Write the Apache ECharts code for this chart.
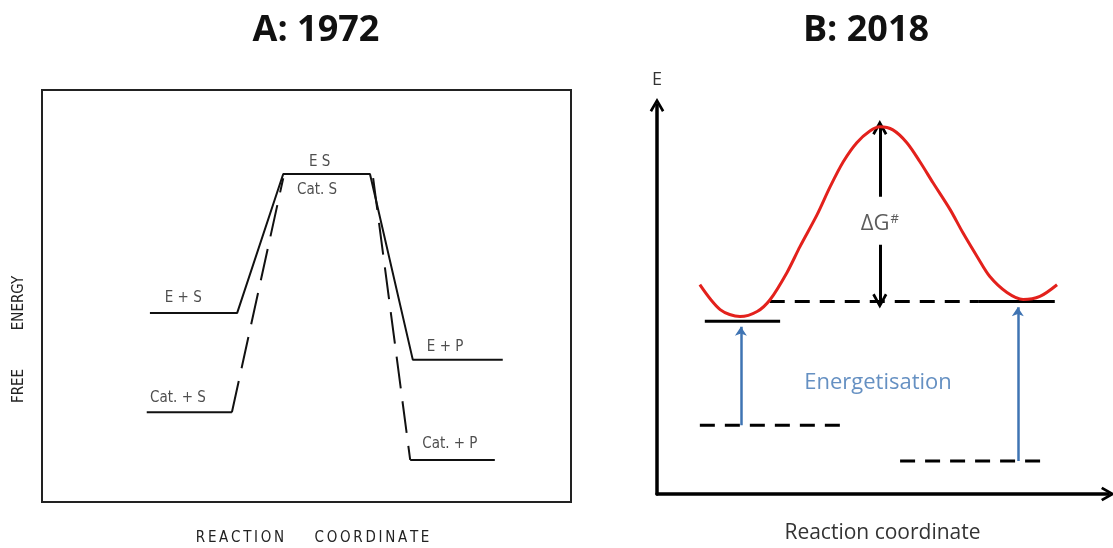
<!DOCTYPE html>
<html>
<head>
<meta charset="utf-8">
<title>energy diagrams</title>
<script src="https://cdn.jsdelivr.net/npm/echarts@6/dist/echarts.min.js"></script>
<style>
    html, body { margin: 0; padding: 0; background: #fff; }
    #main { width: 1113px; height: 548px; }
</style>
</head>
<body>
<div id="main"></div>
<script>
// ---- panel A (1972) : [reaction coordinate, free energy], both 0..100
var esPath   = [[20.4, 45.9], [36.9, 45.9], [45.6, 79.6], [62.0, 79.6], [70.1, 34.5], [87.1, 34.5]];
var catStart = [[19.8, 21.8], [35.9, 21.8]];
var catRise  = [[35.9, 21.8], [45.6, 78.6]];
var catFall  = [[62.6, 78.6], [69.6, 10.2]];
var catEnd   = [[69.6, 10.2], [85.6, 10.2]];
var labelsA  = [
    {name: 'E S',      value: [52.5, 82.4]},
    {name: 'Cat. S',   value: [52.0, 75.8]},
    {name: 'E + S',    value: [26.7, 49.5]},
    {name: 'Cat. + S', value: [25.7, 25.2]},
    {name: 'E + P',    value: [76.2, 37.6]},
    {name: 'Cat. + P', value: [77.1, 14.0]}
];

// ---- panel B (2018) : [reaction coordinate, E], both 0..100
var barrierCurve = [[9.5, 53.8], [14.0, 47.4], [18.4, 45.6], [22.2, 46.9], [25.1, 50.0], [28.8, 56.9],
                    [31.7, 63.6], [35.5, 71.8], [38.4, 79.0], [41.3, 85.4], [44.3, 90.3], [47.2, 93.3],
                    [49.4, 94.4], [52.3, 93.6], [55.4, 90.3], [58.3, 85.4], [61.2, 80.0], [65.0, 73.1],
                    [67.8, 67.2], [71.0, 61.0], [73.8, 55.9], [77.6, 51.8], [81.2, 50.0], [84.9, 50.8], [88.7, 53.8]];
var groundLevel  = [[10.6, 44.4], [27.3, 44.4]];
var activeDashed = [[25.0, 49.5], [71.2, 49.5]];
var activeSolid  = [[71.2, 49.5], [88.2, 49.5]];
var lowLeft      = [[9.5, 17.7], [41.0, 17.7]];
var lowRight     = [[53.9, 8.5], [86.5, 8.5]];
var blueArrows   = [[[18.6, 17.7], [18.6, 43.0]], [[80.0, 8.5], [80.0, 48.0]]];
var dgArrows     = [[[49.4, 76.4], [49.4, 94.2]], [[49.4, 64.1], [49.4, 49.6]]];
var dgLabel      = [49.4, 69.4];
var energLabel   = [49.0, 28.7];

var chevron = 'path://M5,0 L10,8.6 L8.4,9.6 L5,3.6 L1.6,9.6 L0,8.6 Z';
var plotFont = '"Liberation Sans Narrow", "DejaVu Sans Condensed", "DejaVu Sans"';

$init();

// spread capitals a little, like the old plotter lettering
function spaced(s) {
    return s.split('').join('\u2009');
}

function $init() {
    var myChart = echarts.init(document.getElementById('main'));

    function seg(name, data, grid, color, width, type) {
        return {
            name: name,
            type: 'line',
            xAxisIndex: grid,
            yAxisIndex: grid,
            data: data,
            symbol: 'none',
            silent: true,
            lineStyle: {color: color, width: width, type: type || 'solid'}
        };
    }

    function arrows(data, color, width, head, size) {
        return {
            type: 'lines',
            coordinateSystem: 'cartesian2d',
            xAxisIndex: 1,
            yAxisIndex: 1,
            symbol: ['none', head],
            symbolSize: size,
            silent: true,
            lineStyle: {color: color, width: width, opacity: 1},
            data: data.map(function (c) { return {coords: c}; })
        };
    }

    var option = {
        animation: false,
        backgroundColor: '#fff',
        graphic: [
            {type: 'text', x: 316, y: 31, style: {text: 'A: 1972', font: 'bold 36px "Open Sans"', fill: '#111', align: 'center', verticalAlign: 'middle'}},
            {type: 'text', x: 866, y: 31, style: {text: 'B: 2018', font: 'bold 36px "Open Sans"', fill: '#111', align: 'center', verticalAlign: 'middle'}},
            {type: 'text', x: 240, y: 538, style: {text: spaced('REACTION'), font: '15px ' + plotFont, fill: '#222', align: 'center', verticalAlign: 'middle'}},
            {type: 'text', x: 372, y: 538, style: {text: spaced('COORDINATE'), font: '15px ' + plotFont, fill: '#222', align: 'center', verticalAlign: 'middle'}},
            {type: 'text', x: 19, y: 386, rotation: Math.PI / 2, style: {text: 'FREE', font: '15px ' + plotFont, fill: '#222', align: 'center', verticalAlign: 'middle'}},
            {type: 'text', x: 19, y: 303, rotation: Math.PI / 2, style: {text: 'ENERGY', font: '15px ' + plotFont, fill: '#222', align: 'center', verticalAlign: 'middle'}}
        ],
        grid: [
            {left: 42, right: 542, top: 90, bottom: 46, show: true, borderColor: '#222', borderWidth: 2, outerBoundsMode: 'none'},
            {left: 657, right: 5, top: 105, bottom: 54, outerBoundsMode: 'none'}
        ],
        xAxis: [
            {gridIndex: 0, type: 'value', min: 0, max: 100, show: false},
            {
                gridIndex: 1, type: 'value', min: 0, max: 100,
                name: 'Reaction coordinate', nameLocation: 'middle', nameGap: 29,
                nameTextStyle: {fontFamily: 'Open Sans', fontSize: 21, color: '#333'},
                axisLine: {onZero: false, symbol: ['none', chevron], symbolSize: [18, 14], lineStyle: {color: '#000', width: 3.5}},
                axisTick: {show: false}, axisLabel: {show: false}, splitLine: {show: false}
            }
        ],
        yAxis: [
            {gridIndex: 0, type: 'value', min: 0, max: 100, show: false},
            {
                gridIndex: 1, type: 'value', min: 0, max: 100,
                name: 'E', nameLocation: 'end', nameGap: 16,
                nameTextStyle: {fontFamily: 'Open Sans', fontSize: 18, color: '#333'},
                axisLine: {onZero: false, symbol: ['none', chevron], symbolSize: [18, 14], lineStyle: {color: '#000', width: 3.5}},
                axisTick: {show: false}, axisLabel: {show: false}, splitLine: {show: false}
            }
        ],
        series: [
            // panel A
            seg('E', esPath, 0, '#111', 2),
            seg('Cat start', catStart, 0, '#111', 2),
            seg('Cat rise', catRise, 0, '#111', 2, [32, 13]),
            seg('Cat fall', catFall, 0, '#111', 2, [32, 13]),
            seg('Cat end', catEnd, 0, '#111', 2),
            {
                type: 'scatter',
                xAxisIndex: 0,
                yAxisIndex: 0,
                symbolSize: 1,
                itemStyle: {color: 'rgba(0,0,0,0)'},
                silent: true,
                label: {show: true, position: 'inside', formatter: '{b}', fontFamily: plotFont, fontSize: 15, color: '#222'},
                data: labelsA
            },
            // panel B
            seg('ground', groundLevel, 1, '#000', 3),
            seg('active dashed', activeDashed, 1, '#000', 3, [15, 10]),
            seg('active solid', activeSolid, 1, '#000', 3),
            seg('low left', lowLeft, 1, '#000', 3, [15, 10]),
            seg('low right', lowRight, 1, '#000', 3, [15, 10]),
            arrows(blueArrows, '#3f74b3', 2.5, 'arrow', 9),
            arrows(dgArrows, '#000', 3, chevron, 15),
            {
                name: 'barrier',
                type: 'line',
                xAxisIndex: 1,
                yAxisIndex: 1,
                data: barrierCurve,
                smooth: 0.3,
                symbol: 'none',
                silent: true,
                lineStyle: {color: '#e3211c', width: 3}
            },
            {
                type: 'scatter',
                xAxisIndex: 1,
                yAxisIndex: 1,
                symbolSize: 1,
                itemStyle: {color: 'rgba(0,0,0,0)'},
                silent: true,
                label: {show: true, position: 'inside'},
                data: [
                    {
                        value: dgLabel,
                        label: {
                            formatter: '{a|ΔG}{b|#}',
                            rich: {
                                a: {fontFamily: 'Open Sans', fontSize: 22, color: '#333'},
                                b: {fontFamily: 'Open Sans', fontSize: 13, color: '#333', verticalAlign: 'top', padding: [0, 0, 10, 1]}
                            }
                        }
                    },
                    {
                        value: energLabel,
                        label: {formatter: 'Energetisation', fontFamily: 'Open Sans', fontSize: 22, color: '#3f74b3'}
                    }
                ]
            }
        ]
    };

    myChart.setOption(option);
}
</script>
</body>
</html>
